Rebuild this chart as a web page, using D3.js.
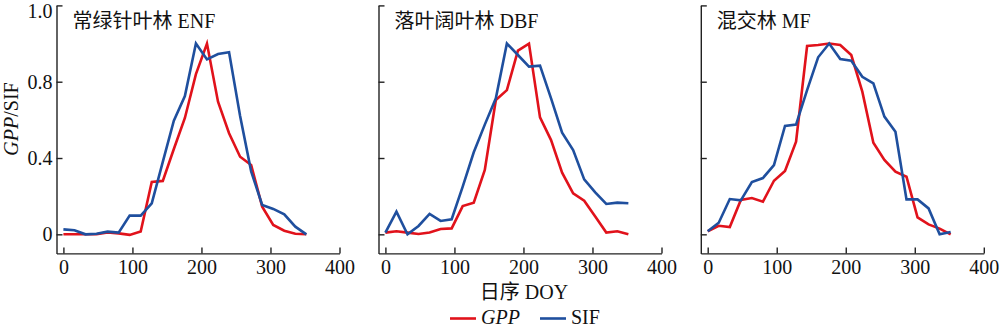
<!DOCTYPE html>
<html>
<head>
<meta charset="utf-8">
<script src="https://cdn.jsdelivr.net/npm/d3@7/dist/d3.min.js"></script>
<style>
  html, body { margin: 0; padding: 0; background: #fff; }
  svg { display: block; }
  text { font-family: "Liberation Serif", "Noto Sans CJK SC", serif; fill: #111; }
</style>
</head>
<body>
<svg id="chart" width="1000" height="329"></svg>
<script>
// ---- data ----
const doy = [0,16,32,48,64,80,96,112,128,144,160,176,192,208,224,240,256,272,288,304,320,336,352];
const panelTitles = ["常绿针叶林 ENF", "落叶阔叶林 DBF", "混交林 MF"];
const gppENF = [0,0,0,0,0.01,0.005,-0.003,0.015,0.275,0.28,0.447,0.61,0.84,1.0,0.695,0.53,0.407,0.363,0.145,0.049,0.019,0.003,0];
const sifENF = [0.026,0.021,0,0.003,0.014,0.009,0.098,0.098,0.162,0.38,0.596,0.725,1.0,0.917,0.945,0.954,0.62,0.33,0.154,0.133,0.105,0.04,0];
const gppDBF = [0.009,0.016,0.009,0.002,0.01,0.028,0.031,0.148,0.166,0.337,0.704,0.756,0.963,1.0,0.613,0.494,0.323,0.215,0.176,0.093,0.009,0.016,0];
const sifDBF = [0.009,0.119,0,0.044,0.107,0.07,0.079,0.25,0.43,0.575,0.713,1.0,0.94,0.879,0.884,0.713,0.533,0.442,0.288,0.22,0.159,0.166,0.163];
const gppMF  = [0.016,0.045,0.038,0.18,0.19,0.171,0.281,0.332,0.486,0.987,0.992,1.0,0.992,0.94,0.748,0.48,0.39,0.328,0.302,0.089,0.052,0.03,0];
const sifMF  = [0.016,0.061,0.185,0.178,0.274,0.295,0.363,0.568,0.575,0.756,0.928,1.0,0.919,0.91,0.826,0.791,0.617,0.538,0.183,0.183,0.136,0,0.012];
const gppSeries = [gppENF, gppDBF, gppMF];
const sifSeries = [sifENF, sifDBF, sifMF];
const xTicks = [0,100,200,300,400];
const yTicks = [0,0.4,0.8,1.2];
const yTickLabels = ["0","0.4","0.8","1.0"];
const seriesNames = ["GPP","SIF"];

// ---- layout ----
const colors = { GPP: "#e1121b", SIF: "#1f4f9e" };
const svg = d3.select("#chart");
const panelLeft = [56.5, 378.5, 700.8];
const panelW = 283;
const yTop = 5.4, yBottom = 253.4;

const x = d3.scaleLinear().domain([-10, 400]).range([0, panelW]);
const y = d3.scaleLinear().domain([-0.1, 1.2]).range([yBottom, yTop]);

const line = d3.line().x((d, i) => x(doy[i])).y(d => y(d));

panelLeft.forEach((left, p) => {
  const g = svg.append("g").attr("transform", `translate(${left},0)`);

  // x axis
  const xa = g.append("g")
    .attr("transform", `translate(0,${yBottom})`)
    .call(d3.axisBottom(x).tickValues(xTicks).tickSizeInner(-6).tickSizeOuter(0).tickPadding(6).tickFormat(d3.format("d")));
  // y axis
  const ya = g.append("g")
    .call(d3.axisLeft(y).tickValues(yTicks).tickSizeInner(-6).tickSizeOuter(0).tickPadding(4)
      .tickFormat((d, i) => p === 0 ? yTickLabels[i] : ""));

  [xa, ya].forEach(a => {
    a.select(".domain").attr("stroke", "#222").attr("stroke-width", 1.4);
    a.selectAll(".tick line").attr("stroke", "#222").attr("stroke-width", 1.4);
    a.selectAll(".tick text").attr("font-family", '"Liberation Serif", serif').attr("font-size", 20).attr("fill", "#111");
  });
  // keep the top tick label inside the picture, as in the reference
  ya.selectAll(".tick text").filter(d => d === yTicks[yTicks.length - 1]).attr("dy", "0.62em");

  // lines
  g.append("path").datum(gppSeries[p]).attr("d", line)
    .attr("fill", "none").attr("stroke", colors.GPP).attr("stroke-width", 2.6).attr("stroke-linejoin", "miter");
  g.append("path").datum(sifSeries[p]).attr("d", line)
    .attr("fill", "none").attr("stroke", colors.SIF).attr("stroke-width", 2.6).attr("stroke-linejoin", "miter");

  // title
  g.append("text").attr("x", 16).attr("y", 28).attr("font-size", 20).text(panelTitles[p]);
});

// y axis title
const yt = svg.append("text")
  .attr("transform", "translate(18,119) rotate(-90)")
  .attr("text-anchor", "middle").attr("font-size", 20);
yt.append("tspan").attr("font-style", "italic").text("GPP");
yt.append("tspan").text("/SIF");

// x axis title
svg.append("text").attr("x", 524).attr("y", 299).attr("text-anchor", "middle")
  .attr("font-size", 20).text("日序 DOY");

// legend
const legendX = [450, 540];
seriesNames.forEach((s, i) => {
  const lx = legendX[i];
  svg.append("line").attr("x1", lx).attr("x2", lx + 26).attr("y1", 318.5).attr("y2", 318.5)
    .attr("stroke", colors[s]).attr("stroke-width", 2.6);
  svg.append("text").attr("x", lx + 31).attr("y", 324).attr("font-size", 20)
    .attr("font-style", s === "GPP" ? "italic" : "normal").text(s);
});
</script>
</body>
</html>
